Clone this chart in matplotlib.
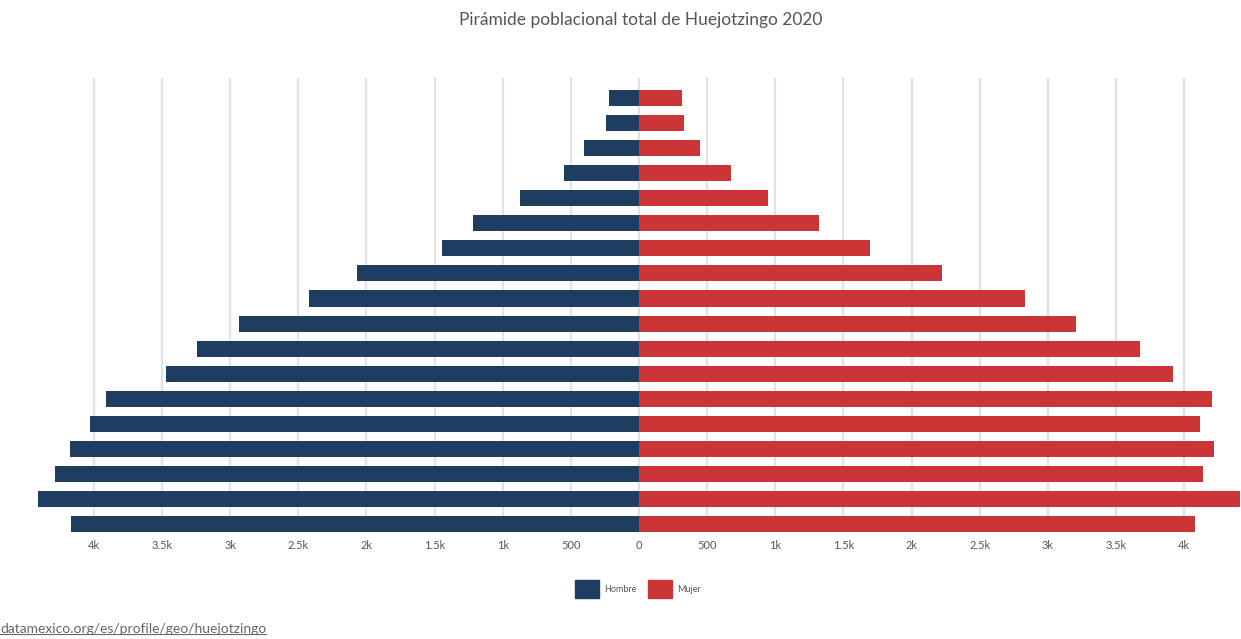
import matplotlib
matplotlib.use("Agg")
import matplotlib.pyplot as plt
from matplotlib.patches import Patch
from matplotlib.ticker import FuncFormatter, MultipleLocator
import numpy as np

plt.rcParams['font.family'] = ['Lato', 'DejaVu Sans']

# Age groups, bottom (youngest) to top (oldest)
age_groups = ['0-4', '5-9', '10-14', '15-19', '20-24', '25-29', '30-34', '35-39',
              '40-44', '45-49', '50-54', '55-59', '60-64', '65-69', '70-74',
              '75-79', '80-84', '85+']
hombre = [4169, 4411, 4283, 4173, 4032, 3909, 3474, 3241, 2936, 2422, 2067,
          1446, 1215, 870, 550, 404, 239, 220]
mujer = [4084, 4409, 4143, 4220, 4121, 4208, 3922, 3680, 3210, 2831, 2224,
         1698, 1319, 945, 673, 445, 330, 313]

title = 'Pirámide poblacional total de Huejotzingo 2020'
source = 'datamexico.org/es/profile/geo/huejotzingo'
c_h = '#1e3d61'
c_m = '#cc3535'

fig = plt.figure(figsize=(12.41, 6.39), dpi=100)
ax = fig.add_axes([38/1241, 1-532/639, (1240-38)/1241, (532-78)/639])

y = np.arange(len(age_groups))
ax.barh(y, -np.array(hombre), height=0.64, color=c_h, zorder=3, label='Hombre')
ax.barh(y, mujer, height=0.64, color=c_m, zorder=3, label='Mujer')

lim = max(max(hombre), max(mujer))
ax.set_xlim(-lim, lim)
ax.set_ylim(-0.32, 17.8)

def fmt(v, pos):
    v = abs(v)
    if v == 0:
        return '0'
    if v >= 1000:
        s = f'{v/1000:.1f}'.rstrip('0').rstrip('.')
        return s + 'k'
    return f'{int(v)}'

ax.xaxis.set_major_locator(MultipleLocator(500))
ax.xaxis.set_major_formatter(FuncFormatter(fmt))
ax.tick_params(axis='x', length=0, pad=6, labelsize=8, labelcolor='#555555')
ax.set_yticks([])
for s in ax.spines.values():
    s.set_visible(False)
ax.grid(axis='x', color='#e2e2e2', linewidth=1.6, zorder=0)

fig.text(0.516, 1-20/639, title, ha='center', va='center', fontsize=12.5, color='#555555')

handles = [Patch(facecolor=c_h, edgecolor=c_h, label='Hombre'),
           Patch(facecolor=c_m, edgecolor=c_m, label='Mujer')]
fig.legend(handles=handles, loc='center', bbox_to_anchor=(0.514, 1-589/639), ncol=2,
           frameon=False, fontsize=6.5, handlelength=2.7, handleheight=2.7,
           handletextpad=0.6, columnspacing=1.2, labelcolor='#555555')

t = fig.text(0.0, 1-629/639, source, ha='left', va='center', fontsize=10, color='#666666')
fig.canvas.draw()
bb = t.get_window_extent()
fig.add_artist(plt.Line2D([bb.x0/1241, bb.x1/1241], [(bb.y0 + 1.5)/639]*2,
                          color='#666666', linewidth=0.8, transform=fig.transFigure))

fig.savefig('out.png', dpi=100)
